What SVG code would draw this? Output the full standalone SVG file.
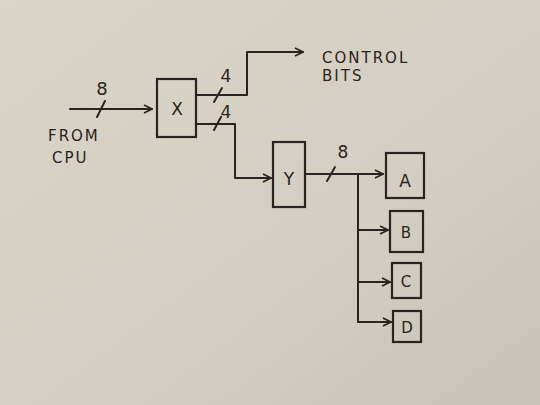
<svg xmlns="http://www.w3.org/2000/svg" width="540" height="405" viewBox="0 0 540 405">
<defs>
<linearGradient id="bg" x1="0" y1="0" x2="1" y2="1">
<stop offset="0" stop-color="#dbd5c8"/>
<stop offset="0.6" stop-color="#d4cec2"/>
<stop offset="1" stop-color="#c7c3b9"/>
</linearGradient>
<marker id="arr" viewBox="0 0 10 10" refX="9" refY="5" markerWidth="10" markerHeight="10" markerUnits="userSpaceOnUse" orient="auto">
<path d="M1,1 L9,5 L1,9" fill="none" stroke="#2a2420" stroke-width="1.7"/>
</marker>
</defs>
<style>
.ln{fill:none;stroke:#2a2420;stroke-width:2;stroke-linecap:round;stroke-linejoin:round}
.bx{fill:none;stroke:#2a2420;stroke-width:2.2}
.t{font-family:"DejaVu Sans",sans-serif;fill:#2a2420;text-anchor:middle}
.lbl{font-family:"DejaVu Sans",sans-serif;fill:#2a2420;font-size:15px;letter-spacing:2px}
</style>
<rect width="540" height="405" fill="url(#bg)"/>
<g id="connectors">
<path class="ln" d="M70,109 L152,109" marker-end="url(#arr)"/>
<path class="ln" d="M97,117 L105,101"/>
<text class="t" x="102" y="95" font-size="18">8</text>
<path class="ln" d="M197,95 L247,95 L247,52 L303,52" marker-end="url(#arr)"/>
<path class="ln" d="M214,102 L222,88"/>
<text class="t" x="226" y="82" font-size="17">4</text>
<path class="ln" d="M197,124 L235,124 L235,178 L271,178" marker-end="url(#arr)"/>
<path class="ln" d="M214,130 L221,117"/>
<text class="t" x="226" y="118" font-size="17">4</text>
<path class="ln" d="M305,174 L383,174" marker-end="url(#arr)"/>
<path class="ln" d="M327,181 L335,167"/>
<text class="t" x="343" y="158" font-size="17">8</text>
<path class="ln" d="M358,174 L358,322"/>
<path class="ln" d="M358,230 L388,230" marker-end="url(#arr)"/>
<path class="ln" d="M358,282 L390,282" marker-end="url(#arr)"/>
<path class="ln" d="M358,322 L391,322" marker-end="url(#arr)"/>
</g>
<g id="from-cpu">
<text class="lbl" x="48" y="141">FROM</text>
<text class="lbl" x="52" y="163">CPU</text>
</g>
<g id="control-bits">
<text class="lbl" x="322" y="63" letter-spacing="3">CONTROL</text>
<text class="lbl" x="322" y="81">BITS</text>
</g>
<g id="X">
<rect class="bx" x="157" y="79" width="39" height="58"/>
<text class="t" x="177" y="115" font-size="17">X</text>
</g>
<g id="Y">
<rect class="bx" x="273" y="142" width="32" height="65"/>
<text class="t" x="289" y="185" font-size="17">Y</text>
</g>
<g id="A">
<rect class="bx" x="386" y="153" width="38" height="45"/>
<text class="t" x="405" y="187" font-size="17">A</text>
</g>
<g id="B">
<rect class="bx" x="390" y="211" width="33" height="41"/>
<text class="t" x="406" y="238" font-size="15">B</text>
</g>
<g id="C">
<rect class="bx" x="392" y="263" width="29" height="35"/>
<text class="t" x="406" y="287" font-size="15">C</text>
</g>
<g id="D">
<rect class="bx" x="393" y="311" width="28" height="31"/>
<text class="t" x="407" y="333" font-size="15">D</text>
</g>
</svg>
